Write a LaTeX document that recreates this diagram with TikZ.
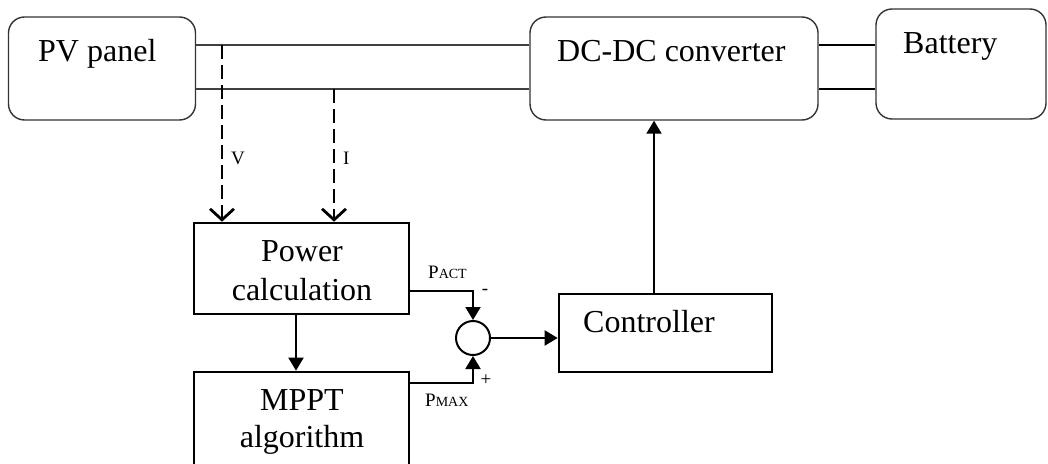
\documentclass[tikz,border=0pt]{standalone}
\usepackage{fontspec}
\setmainfont{Liberation Serif}
\usetikzlibrary{arrows.meta,calc}
\begin{document}
\begin{tikzpicture}[x=1pt,y=-1pt,
  rbox/.style={draw=black!80,line width=1.4pt,rounded corners=16pt,inner sep=0pt},
  sbox/.style={draw,line width=2.6pt,inner sep=0pt},
  big/.style={font=\fontsize{32}{39}\selectfont,inner sep=0pt},
  small/.style={font=\fontsize{19}{21}\selectfont,inner sep=0pt},
  wire/.style={draw=black!75,line width=1.4pt},
  bwire/.style={draw,line width=2pt},
  meas/.style={dashed,dash pattern=on 14pt off 6pt,line width=2.8pt,-{Straight Barb[length=11pt,width=24pt,line width=2.8pt]}},
  sig/.style={line width=2pt,-{Triangle[length=13pt,width=15pt]}}]
\useasboundingbox (0,0) rectangle (1048,463);
% boxes
\node[rbox,minimum width=187pt,minimum height=103pt] (pv) at (102,68.5) {};
\node[rbox,minimum width=288pt,minimum height=103pt] (dc) at (674,68.5) {};
\node[rbox,minimum width=170pt,minimum height=110pt] (bat) at (961,64) {};
\node[sbox,minimum width=215pt,minimum height=91pt] (pc) at (301.5,268.5) {};
\node[sbox,minimum width=215pt,minimum height=106pt] (mppt) at (301.5,425) {};
\node[sbox,minimum width=213pt,minimum height=78pt] (ctrl) at (665.5,333) {};
\node[draw,line width=2pt,circle,minimum size=34pt,inner sep=0pt] (sum) at (473,338) {};
% texts
\node[big,anchor=base west] (pvt) at (38,61) {PV panel};
\node[big,anchor=base west] (dct) at (557,61) {DC-DC converter};
\node[big,anchor=base west] (batt) at (903,53) {Battery};
\node[big,anchor=base] (pct1) at (302,261) {Power};
\node[big,anchor=base] (pct2) at (302,300) {calculation};
\node[big,anchor=base] (mpt1) at (302,410) {MPPT};
\node[big,anchor=base] (mpt2) at (302,447) {algorithm};
\node[big,anchor=base west] (ctt) at (583,332) {Controller};
\node[small,anchor=base west] (vl) at (231,164) {V};
\node[small,anchor=base west] (il) at (343,164) {I};
\node[small,anchor=base west] (pact) at (428,278) {P{\fontsize{14}{14}\selectfont ACT}};
\node[small,anchor=base west] (pmax) at (425,406) {P{\fontsize{14}{14}\selectfont MAX}};
\node[small] (minus) at (485,292) {-};
\node[small] (plus) at (486,380) {+};
% power wires
\draw[wire] ([yshift=23.5pt]pv.east) -- ([yshift=23.5pt]pv.east -| dc.west);
\draw[wire] ([yshift=-20.5pt]pv.east) -- ([yshift=-20.5pt]pv.east -| dc.west);
\draw[bwire] ([yshift=23.5pt]dc.east) -- ([yshift=23.5pt]dc.east -| bat.west);
\draw[bwire] ([yshift=-20.5pt]dc.east) -- ([yshift=-20.5pt]dc.east -| bat.west);
% measurement taps
\coordinate (tapV) at (222,45);
\coordinate (tapI) at (334,89);
\draw[meas] (tapV) -- (tapV |- pc.north);
\draw[meas] (tapI) -- (tapI |- pc.north);
% signals
\draw[sig] ([xshift=-5.5pt]pc.south) -- ([xshift=-5.5pt]pc.south |- mppt.north);
\draw[sig] ([yshift=-22.5pt]pc.east) -| (sum.north);
\draw[sig] ([yshift=42pt]mppt.east) -| (sum.south);
\draw[sig] (sum.east) -- (sum.east -| ctrl.west);
\draw[sig] ([xshift=-11.5pt]ctrl.north) -- ([xshift=-11.5pt]ctrl.north |- dc.south);
\end{tikzpicture}
\end{document}
